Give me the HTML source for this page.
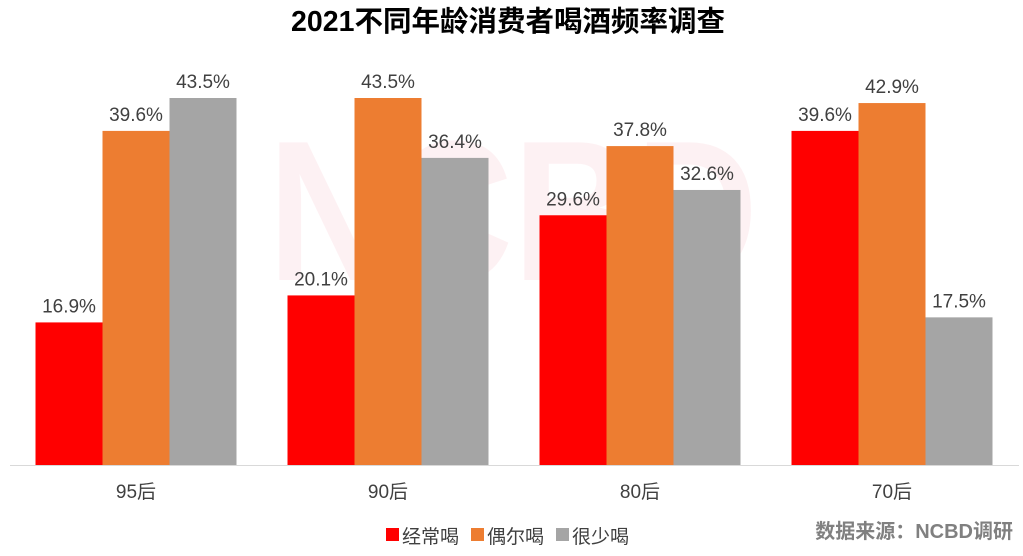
<!DOCTYPE html>
<html><head><meta charset="utf-8"><style>
body{margin:0;width:1023px;height:551px;background:#fff;overflow:hidden;font-family:"Liberation Sans","Noto Sans CJK SC",sans-serif;}
</style></head><body>
<svg id="c" width="1023" height="551" xmlns="http://www.w3.org/2000/svg">
<text x="268" y="280" font-size="200" font-weight="bold" fill="#fde8ec" font-family="Liberation Sans, sans-serif" textLength="490" lengthAdjust="spacingAndGlyphs" opacity="0.6">NCBD</text>
<text x="508" y="31" text-anchor="middle" font-size="28.5" font-weight="bold" fill="#000">2021不同年龄消费者喝酒频率调查</text>
<line x1="10" y1="465.5" x2="1019" y2="465.5" stroke="#d9d9d9"/>
<g id="bars"></g>
<g font-size="19" fill="#404040">
<rect x="386" y="528" width="13" height="13" fill="#ff0000"/>
<text x="402" y="543">经常喝</text>
<rect x="471" y="528" width="13" height="13" fill="#ed7d31"/>
<text x="487" y="543">偶尔喝</text>
<rect x="556" y="528" width="13" height="13" fill="#a5a5a5"/>
<text x="572" y="543">很少喝</text>
</g>
<text x="1013" y="538" text-anchor="end" font-size="20" font-weight="bold" fill="#808080">数据来源：NCBD调研</text>
</svg>
<script>
const categories=["95后","90后","80后","70后"];
const often=[16.9,20.1,29.6,39.6];
const sometimes=[39.6,43.5,37.8,42.9];
const rarely=[43.5,36.4,32.6,17.5];
const series=[often,sometimes,rarely];
const colors=["#ff0000","#ed7d31","#a5a5a5"];
const names=["often","sometimes","rarely"];
const NS="http://www.w3.org/2000/svg";
const g=document.getElementById("bars");
const base=465,k=367/43.5,left=10,step=252,bw=67;
function y(v){return base-v*k;}
function cx(i){return left+step*i+step/2;}
categories.forEach((c,i)=>{
 series.forEach((s,j)=>{
  const x=cx(i)-1.5*bw+j*bw;
  const r=document.createElementNS(NS,"rect");
  r.setAttribute("x",x);r.setAttribute("y",y(s[i]));r.setAttribute("width",bw);r.setAttribute("height",base-y(s[i]));r.setAttribute("fill",colors[j]);
  
  
  g.appendChild(r);
  const t=document.createElementNS(NS,"text");
  t.setAttribute("x",x+bw/2);t.setAttribute("y",y(s[i])-10);t.setAttribute("text-anchor","middle");t.setAttribute("font-size","19");t.setAttribute("fill","#404040");
  t.textContent=s[i].toFixed(1)+"%";
  
  
  g.appendChild(t);
 });
 const l=document.createElementNS(NS,"text");
 l.setAttribute("x",cx(i));l.setAttribute("y",498);l.setAttribute("text-anchor","middle");l.setAttribute("font-size","19");l.setAttribute("fill","#404040");
 l.textContent=c;
 
 
 g.appendChild(l);
});
</script>
</body></html>
